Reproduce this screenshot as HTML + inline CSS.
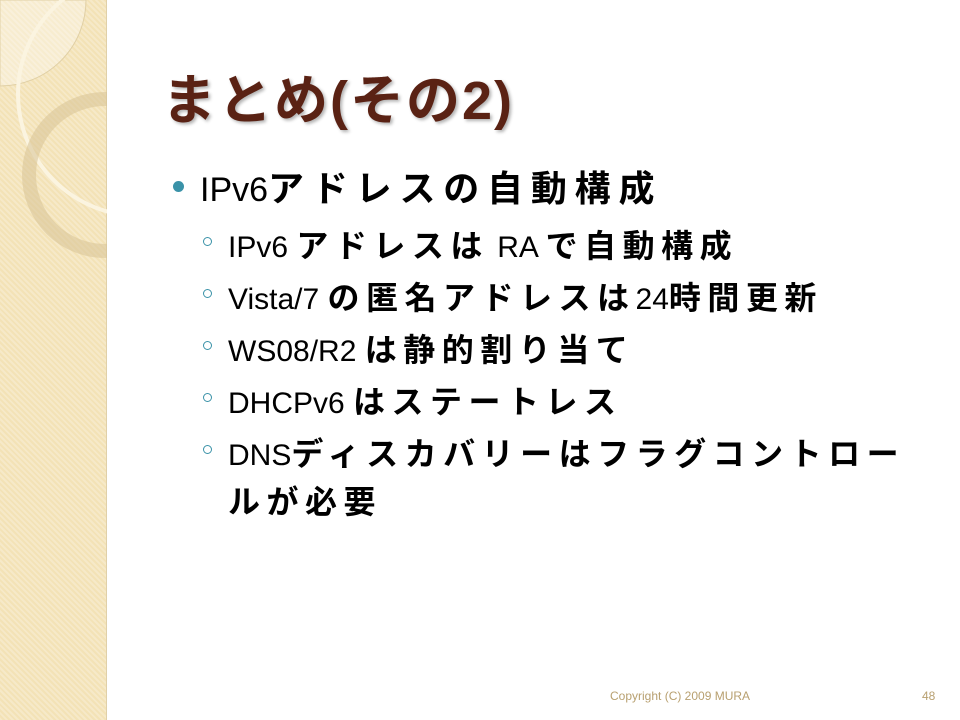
<!DOCTYPE html>
<html><head><meta charset="utf-8"><style>
body{margin:0;width:960px;height:720px;background:#fff;position:relative;overflow:hidden;font-family:"Liberation Sans","Noto Sans CJK JP",sans-serif;}
.strip{position:absolute;left:0;top:0;width:106px;height:720px;background:#f3e2b6;border-right:1px solid #e0d0a8;
background-image:repeating-linear-gradient(45deg,rgba(255,255,255,.25) 0 2px,transparent 2px 4px);}
.t{position:absolute;white-space:nowrap;}
.title{left:162px;top:56px;font-size:54px;letter-spacing:2px;color:#5a2214;font-weight:bold;text-shadow:2px 2px 3px rgba(0,0,0,.3);}
.l1{left:200px;top:160px;font-size:34px;color:#000;}
.l1 b{font-size:36px;letter-spacing:7.8px;font-weight:700;}
.l2{left:228px;font-size:30px;color:#000;}
.l2 b{font-size:32px;letter-spacing:6.5px;font-weight:700;}
.b2{position:absolute;left:203px;width:7px;height:7px;border:1.5px solid #3a92a8;border-radius:50%;}
</style></head><body>
<div class="strip"></div>
<svg style="position:absolute;left:0;top:0" width="107" height="720">
<path d="M0 0 H86 A86 86 0 0 1 0 86 Z" fill="rgba(255,255,255,0.35)" stroke="#e0cfa4"/>
<circle cx="140" cy="94" r="122" fill="none" stroke="#fbf4e0" stroke-width="4"/>
<circle cx="105" cy="175" r="76" fill="none" stroke="rgba(215,195,150,0.55)" stroke-width="14"/>
</svg>
<div class="t title">まとめ(その2)</div>
<div style="position:absolute;left:173px;top:181px;width:11px;height:11px;border-radius:50%;background:#3a92a8"></div>
<div class="t l1">IPv6<b>アドレスの自動構成</b></div>
<div class="b2" style="top:237px"></div><div class="t l2" style="top:221px">IPv6 <b>アドレスは</b> RA <b>で自動構成</b></div>
<div class="b2" style="top:289px"></div><div class="t l2" style="top:273px">Vista/7 <b>の匿名アドレスは</b>24<b>時間更新</b></div>
<div class="b2" style="top:341px"></div><div class="t l2" style="top:325px">WS08/R2 <b>は静的割り当て</b></div>
<div class="b2" style="top:393px"></div><div class="t l2" style="top:377px">DHCPv6 <b>はステートレス</b></div>
<div class="b2" style="top:445px"></div><div class="t l2" style="top:429px">DNS<b>ディスカバリーはフラグコントロー</b></div>
<div class="t l2" style="top:477px"><b>ルが必要</b></div>
<div class="t" style="left:610px;top:689px;font-size:12px;color:#b8a070">Copyright (C) 2009 MURA</div>
<div class="t" style="left:922px;top:689px;font-size:12px;color:#b8a070">48</div>
</body></html>
